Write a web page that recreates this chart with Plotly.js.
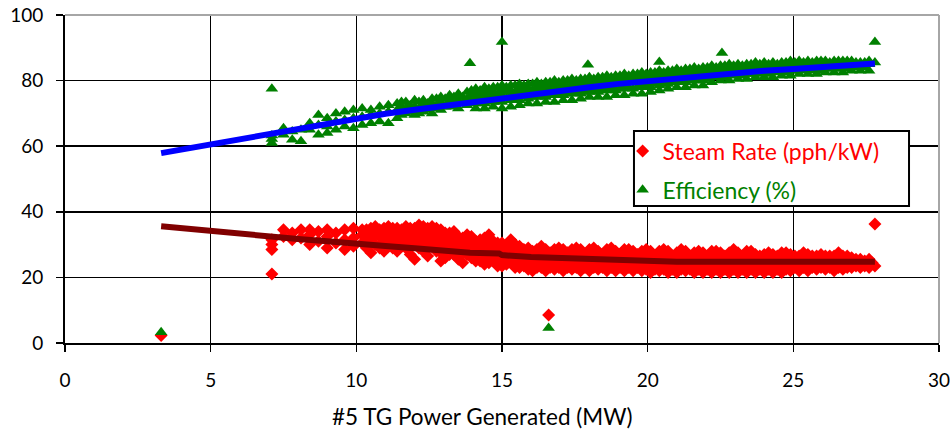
<!DOCTYPE html>
<html>
<head>
<meta charset="utf-8">
<script src="https://cdn.plot.ly/plotly-3.0.1.min.js"></script>
<style>
html,body{margin:0;padding:0;background:#fff;}
#chart{width:950px;height:432px;}
</style>
</head>
<body>
<div id="chart"></div>
<script>
// ---- Data ----
const xTicks = [0, 5, 10, 15, 20, 25, 30];
const yTicks = [0, 20, 40, 60, 80, 100];
const xTitle = '#5 TG Power Generated (MW)';
const steamName = 'Steam Rate (pph/kW)';
const effName = 'Efficiency (%)';

// Steam rate scatter: each row = [power MW, steam-rate values at that power...]
const steamCols = [
  [7.1, 28.5, 30, 31.5], [7.5, 32.5, 34.5], [7.8, 31.5, 33.5], [8.1, 32, 34.5],
  [8.4, 30, 33, 34.5], [8.7, 31, 34], [9.0, 29, 32.5, 34.5], [9.3, 30.5, 33.5],
  [9.6, 28.5, 31.5, 34.5], [9.9, 29.5, 32, 35], [10.2, 30.5, 33, 34.5],
  [10.5, 27.5, 31, 33.5, 35], [10.8, 29, 32.5, 34.5], [11.1, 30, 32, 34, 35.5],
  [11.4, 28, 31, 33.5, 35], [11.7, 29, 31.5, 34, 35.5], [12.0, 25.5, 30, 32.5, 35],
  [12.3, 28, 31, 33.5, 35.5], [12.6, 29.5, 32, 34, 35.5], [12.9, 25, 27.5, 30, 32.5, 34.5],
  [13.2, 27, 29, 31.5, 33.5], [13.5, 25.5, 28.5, 30.5, 32.5], [13.8, 27, 29.5, 31.5, 33],
  [14.1, 25, 27.5, 29.5, 31], [14.4, 24, 26.5, 28.5, 30.5, 32], [14.7, 25, 27, 29, 31],
  [15.0, 23.5, 26, 28, 30.5], [15.3, 24.5, 26.5, 28.5, 31.5], [15.6, 23, 25.5, 27.5, 29.5],
  [15.9, 22.5, 25, 27, 29], [16.2, 23, 25, 27, 28.5], [16.5, 22, 24.5, 26.5, 28.5],
  [16.8, 22.5, 24.5, 26.5, 28.5], [17.1, 22, 24, 26.5, 28.5], [17.4, 22.5, 24.5, 26.5, 28.5],
  [17.7, 22, 24, 26, 28.5], [18.0, 22, 24, 26, 28.5], [18.3, 22.5, 24.5, 26.5, 28],
  [18.6, 22, 24, 26, 28.5], [18.9, 22, 24, 26, 28], [19.2, 22, 24, 26, 28.5],
  [19.5, 22, 24, 26, 28], [19.8, 22, 24, 26, 28], [20.1, 21.5, 23.5, 25.5, 28],
  [20.4, 22, 24, 26, 28], [20.7, 21.5, 23.5, 25.5, 28], [21.0, 21.5, 23.5, 25.5, 27.5],
  [21.3, 22, 24, 26, 28], [21.6, 21.5, 23.5, 25.5, 27.5], [21.9, 21.5, 23.5, 25.5, 27.5],
  [22.2, 21.5, 23.5, 25.5, 28], [22.5, 21.5, 23.5, 25.5, 27.5], [22.8, 21.5, 23.5, 25.5, 27.5],
  [23.1, 21.5, 23.5, 25.5, 27.5], [23.4, 21.5, 23.5, 25.5, 28], [23.7, 21.5, 23.5, 25.5, 27],
  [24.0, 21.5, 23.5, 25.5, 27], [24.3, 21.5, 23.5, 25.5, 27], [24.6, 21.5, 23.5, 25.5, 27.5],
  [24.9, 22, 24, 25.5, 27], [25.2, 22, 24, 25.5, 26.5], [25.5, 22, 24, 25.5, 27],
  [25.8, 22.5, 24, 25.5, 26.5], [26.1, 22.5, 24, 25.5, 26.5], [26.4, 22, 24, 25.5, 26.5],
  [26.7, 22.5, 24, 25.5, 26.5], [27.0, 23, 24.5, 26], [27.3, 23, 24.5, 25.5],
  [27.6, 23, 24.5, 25.5], [27.8, 23.5],
  // staggered columns inside the dense band
  [10.35, 29, 32, 34.5], [10.65, 30, 33, 35.5], [10.95, 28, 31, 33.5, 35], [11.25, 29, 32.5, 35],
  [11.55, 30, 33, 34.5], [11.85, 27, 30.5, 33, 35], [12.15, 29, 32, 34, 36], [12.45, 26.5, 30, 32.5, 35],
  [12.75, 28, 31, 33, 35], [13.05, 26, 28.5, 31, 33.5], [13.35, 27, 30, 32, 34], [13.65, 24.5, 27.5, 30, 32],
  [13.95, 26, 28.5, 30.5, 32.5], [14.25, 25, 27.5, 29.5, 31.5], [14.55, 24.5, 26, 28, 30, 33],
  [14.85, 23.5, 26, 28, 30.5], [15.15, 24, 25, 27, 29.5], [15.45, 23, 25.5, 27.5, 30],
  [15.75, 23.5, 24.5, 26.5, 28.5], [16.05, 22, 24, 26, 28], [16.35, 23, 25.5, 27.5, 29.5],
  [16.65, 23, 25.5, 27.5], [16.95, 23, 25.5, 27.5, 29], [17.25, 23, 25, 27.5], [17.55, 23, 25, 27, 29],
  [17.85, 23, 25, 27], [18.15, 23, 25, 27, 29], [18.45, 23, 25, 27], [18.75, 23, 25, 27, 29],
  [19.05, 23, 25, 27], [19.35, 23, 25, 27, 28.5], [19.65, 23, 25, 27], [19.95, 22.5, 24.5, 26.5, 28.5],
  [20.25, 22.5, 24.5, 26.5], [20.55, 22.5, 24.5, 26.5, 28.5], [20.85, 22.5, 24.5, 26.5],
  [21.15, 22.5, 24.5, 26.5, 28.5], [21.45, 22.5, 24.5, 26.5], [21.75, 22.5, 24.5, 26.5, 28],
  [22.05, 22.5, 24.5, 26.5], [22.35, 22.5, 24.5, 26.5, 28], [22.65, 22.5, 24.5, 26.5],
  [22.95, 22.5, 24.5, 26.5, 28.5], [23.25, 22.5, 24.5, 26.5], [23.55, 22.5, 24.5, 26.5, 28],
  [23.85, 22.5, 24.5, 26.5], [24.15, 22.5, 24.5, 26.5, 27.5], [24.45, 22.5, 24.5, 26.5],
  [24.75, 22.5, 24.5, 26.5, 27.5], [25.05, 23, 25, 26.5], [25.35, 23, 25, 26.5, 27.5],
  [25.65, 23, 25, 26.5], [25.95, 23, 25, 26.5, 27], [26.25, 23, 25, 26.5], [26.55, 23, 25, 26.5, 27.5],
  [26.85, 23, 25, 26.5], [27.15, 23.5, 25.5], [27.45, 23.5, 25], [27.7, 24.5]
];
const steamOutliers = [[3.3, 2.3], [7.1, 21], [16.6, 8.5], [27.8, 36.3]];

// Efficiency scatter: each row = [power MW, efficiency values at that power...]
const effCols = [
  [7.1, 61, 62.2, 63.3], [7.5, 63.5, 65.5], [7.8, 62, 64.5], [8.1, 61.5, 65],
  [8.4, 65, 67], [8.7, 63.5, 66.5, 69.5], [9.0, 64, 66, 68.5], [9.3, 65, 67.5, 70],
  [9.6, 66, 68, 70.5], [9.9, 65.5, 68.5, 71], [10.2, 66.5, 69, 71.5], [10.5, 67, 69.5, 71],
  [10.8, 67.5, 70, 72], [11.1, 67, 70.5, 72.5], [11.4, 68.5, 71, 73], [11.7, 70, 71.5, 73.5],
  [12.0, 69.5, 72, 74], [12.3, 70.5, 72.5, 74], [12.6, 70, 73, 74.5], [12.9, 71, 73.5, 75],
  [13.2, 72, 74, 75.5], [13.5, 71.5, 74, 76], [13.8, 72.5, 74.5, 76.5],
  [14.1, 71.5, 73, 74.5, 76, 77.5], [14.4, 71.5, 73, 75, 76.5, 78], [14.7, 72, 73.5, 75, 76.5, 78],
  [15.0, 71.5, 73.5, 75.5, 77, 78.5], [15.3, 72, 74, 75.5, 77, 78.5], [15.6, 72.5, 74, 76, 77.5, 79],
  [15.9, 73, 74.5, 76, 77.5, 79], [16.2, 73, 75, 76.5, 78, 79.5], [16.5, 73.5, 75, 77, 78.5, 79.5],
  [16.8, 73.5, 75.5, 77, 78.5, 80], [17.1, 74, 75.5, 77.5, 79, 80], [17.4, 74, 76, 77.5, 79, 80.5],
  [17.7, 74.5, 76, 78, 79.5, 80.5], [18.0, 75, 76.5, 78, 79.5, 81], [18.3, 75, 76.5, 78.5, 80, 81],
  [18.6, 75, 77, 78.5, 80, 81.5], [18.9, 75.5, 77, 79, 80.5, 81.5], [19.2, 75.5, 77.5, 79, 80.5, 82],
  [19.5, 76, 77.5, 79.5, 81, 82], [19.8, 76, 78, 79.5, 81, 82.5], [20.1, 76.5, 78, 80, 81.5, 82.5],
  [20.4, 77, 78.5, 80, 81.5, 83], [20.7, 77.5, 79, 80.5, 82, 83], [21.0, 78, 79.5, 81, 82, 83.5],
  [21.3, 78, 79.5, 81, 82.5, 83.5], [21.6, 78.5, 80, 81.5, 82.5, 84], [21.9, 78.5, 80, 81.5, 83, 84],
  [22.2, 79.5, 81.5, 83, 84.5], [22.5, 80, 81.5, 83, 84.5], [22.8, 80, 82, 83.5, 85],
  [23.1, 80.5, 82, 83.5, 85], [23.4, 80.5, 82, 84, 85], [23.7, 81, 82.5, 84, 85.5],
  [24.0, 81, 82.5, 84, 85.5], [24.3, 81, 83, 84.5, 85.5], [24.6, 81.5, 83, 84.5, 85.5],
  [24.9, 81.5, 83, 84.5, 86], [25.2, 82, 83.5, 85, 86], [25.5, 82, 83.5, 85, 86],
  [25.8, 82, 83.5, 85, 86], [26.1, 82.5, 84, 85, 86], [26.4, 82.5, 84, 85.5, 86],
  [26.7, 82.5, 84, 85.5, 86], [27.0, 83, 84.5, 85.5, 86], [27.3, 83, 84.5, 85.5],
  [27.6, 83, 85, 86], [27.8, 85.5],
  // staggered columns inside the dense band
  [11.55, 69.5, 72, 73.5], [11.85, 70.5, 72.5], [12.15, 70, 71.5, 73.5], [12.45, 71, 73],
  [12.75, 71.5, 72.5, 74.5], [13.05, 72, 74.5], [13.35, 72.5, 73, 75], [13.65, 73, 75],
  [13.95, 73.5, 75.5, 77], [14.25, 73.5, 75.5, 77], [14.55, 74, 76, 77.5], [14.85, 74, 76, 78],
  [15.15, 74.5, 76.5, 78], [15.45, 74.5, 76.5, 78.5], [15.75, 75, 77, 78.5], [16.05, 75, 77, 79],
  [16.35, 75.5, 77.5, 79], [16.65, 75.5, 77.5, 79.5], [16.95, 76, 78, 79.5], [17.25, 76, 78, 80],
  [17.55, 76.5, 78.5, 80], [17.85, 76.5, 78.5, 80.5], [18.15, 77, 79, 80.5], [18.45, 77, 79, 81],
  [18.75, 77.5, 79.5, 81], [19.05, 77.5, 79.5, 81.5], [19.35, 78, 80, 81.5], [19.65, 78, 80, 82],
  [19.95, 78.5, 80.5, 82], [20.25, 79, 81, 82.5], [20.55, 79, 81, 82.5], [20.85, 79.5, 81.5, 83],
  [21.15, 79.5, 81.5, 83], [21.45, 80, 82, 83.5], [21.75, 80, 82, 83.5], [22.05, 80.5, 82, 84],
  [22.35, 81, 82.5, 84], [22.65, 81, 83, 84.5], [22.95, 81.5, 83, 84.5], [23.25, 81.5, 83, 84.5],
  [23.55, 82, 83.5, 85], [23.85, 82, 83.5, 85], [24.15, 82, 84, 85], [24.45, 82.5, 84, 85],
  [24.75, 82.5, 84, 85.5], [25.05, 83, 84.5, 85.5], [25.35, 83, 84.5, 85.5], [25.65, 83, 84.5, 85.5],
  [25.95, 83, 84.5, 86], [26.25, 83.5, 84.5, 85.5], [26.55, 83.5, 85, 86], [26.85, 83.5, 85, 86],
  [27.15, 84, 85.5], [27.45, 84, 85.5]
];
const effOutliers = [[3.3, 3.3], [7.1, 77.5], [13.9, 85.3], [15.0, 91.8], [16.6, 4.6],
  [17.95, 84.8], [20.4, 85.7], [22.55, 88.4], [27.8, 91.8]];

// Moving-average trend lines
const steamTrendX = [3.3, 4, 5, 6, 7, 8, 9, 10, 11, 12, 13, 13.9, 14.9, 15, 16, 17, 18, 19, 19.5, 19.8, 20, 21, 22, 23, 24, 25, 26, 27, 27.8];
const steamTrendY = [35.6, 35, 33.9, 33.2, 32.5, 31.7, 31, 30.5, 29.6, 28.9, 28.1, 27.5, 27.3, 26.8, 26.2, 25.9, 25.6, 25.4, 25.4, 24.9, 24.8, 24.8, 24.8, 24.8, 24.8, 24.8, 24.8, 24.8, 24.8];
const effTrendX = [3.3, 4, 5, 6, 7, 8, 9, 10, 11, 12, 13, 14, 15, 16, 17, 18, 19, 20, 21, 22, 23, 24, 25, 26, 27, 27.8];
const effTrendY = [57.9, 59, 60.7, 62, 63.5, 65.5, 67, 68.6, 69.9, 71.1, 72.3, 73.6, 74.6, 75.8, 76.9, 78, 79, 79.8, 80.9, 81.8, 82.4, 83, 83.5, 84.1, 84.7, 85.2];

// ---- Build point lists from the tables ----
function flatten(cols, outliers) {
  const xs = [], ys = [];
  cols.forEach(c => { for (let i = 1; i < c.length; i++) { xs.push(c[0]); ys.push(c[i]); } });
  outliers.forEach(p => { xs.push(p[0]); ys.push(p[1]); });
  return {xs, ys};
}
const steam = flatten(steamCols, steamOutliers);
const eff = flatten(effCols, effOutliers);

const FONT = 'Lato, "Open Sans", "DejaVu Sans", sans-serif';

const traces = [
  {
    x: steam.xs, y: steam.ys, type: 'scatter', mode: 'markers',
    name: '<span style="color:#ff0000">' + steamName + '</span>',
    legendgroup: 'a',
    marker: {symbol: 'diamond', size: 10, color: '#ff0000'},
    hoverinfo: 'x+y'
  },
  {
    x: eff.xs, y: eff.ys, type: 'scatter', mode: 'markers',
    name: '<span style="color:#008000">' + effName + '</span>',
    legendgroup: 'b',
    marker: {symbol: 'triangle-up', size: 11, color: '#008000'},
    hoverinfo: 'x+y'
  },
  {
    x: steamTrendX, y: steamTrendY, type: 'scatter', mode: 'lines',
    line: {color: '#800000', width: 6, shape: 'linear'}, showlegend: false, hoverinfo: 'skip'
  },
  {
    x: effTrendX, y: effTrendY, type: 'scatter', mode: 'lines',
    line: {color: '#0000ff', width: 6, shape: 'linear'}, showlegend: false, hoverinfo: 'skip'
  }
];

const layout = {
  width: 950, height: 432,
  margin: {l: 65, r: 11, t: 15, b: 89, pad: 0},
  paper_bgcolor: '#ffffff', plot_bgcolor: '#ffffff',
  font: {family: FONT, size: 19, color: '#000'},
  showlegend: true,
  xaxis: {
    range: [0, 30], tickvals: xTicks, ticktext: xTicks.map(String),
    showgrid: true, gridcolor: '#000', gridwidth: 1.6,
    showline: true, linecolor: '#000', linewidth: 2,
    zeroline: false, ticks: 'outside', ticklen: 7, tickwidth: 1.6, tickcolor: '#000',
    ticklabelstandoff: 12, ticklabeloverflow: 'allow',
    tickfont: {family: FONT, size: 19, color: '#000'},
    fixedrange: true
  },
  yaxis: {
    range: [0, 100], tickvals: yTicks, ticktext: yTicks.map(String),
    showgrid: true, gridcolor: '#000', gridwidth: 1.6,
    showline: true, linecolor: '#000', linewidth: 2,
    zeroline: false, ticks: 'outside', ticklen: 7, tickwidth: 1.6, tickcolor: '#000',
    ticklabelstandoff: 9, ticklabeloverflow: 'allow',
    tickfont: {family: FONT, size: 19, color: '#000'},
    fixedrange: true
  },
  legend: {
    x: 0.638, y: 0.651, xanchor: 'left', yanchor: 'top',
    bgcolor: 'rgba(0,0,0,0)', borderwidth: 0,
    font: {family: FONT, size: 23},
    traceorder: 'grouped', tracegroupgap: 6
  },
  shapes: [
    // gray plot border on top and right
    {type: 'line', xref: 'paper', yref: 'paper', x0: 0, x1: 1, y0: 1, y1: 1,
     line: {color: '#a6a6a6', width: 2}, layer: 'above'},
    {type: 'line', xref: 'paper', yref: 'paper', x0: 1, x1: 1, y0: 0, y1: 1,
     line: {color: '#a6a6a6', width: 2}, layer: 'above'},
    // legend box
    {type: 'rect', xref: 'paper', yref: 'paper', x0: 0.651, x1: 0.9657, y0: 0.4177, y1: 0.6463,
     line: {color: '#000', width: 2}, fillcolor: '#ffffff', layer: 'above'}
  ],
  annotations: [
    {text: xTitle, xref: 'paper', yref: 'paper', x: 0.4766, y: -0.2256,
     xanchor: 'center', yanchor: 'middle', showarrow: false,
     font: {family: FONT, size: 22.5, color: '#000'}}
  ]
};

Plotly.newPlot('chart', traces, layout, {staticPlot: true, displayModeBar: false});
</script>
</body>
</html>
